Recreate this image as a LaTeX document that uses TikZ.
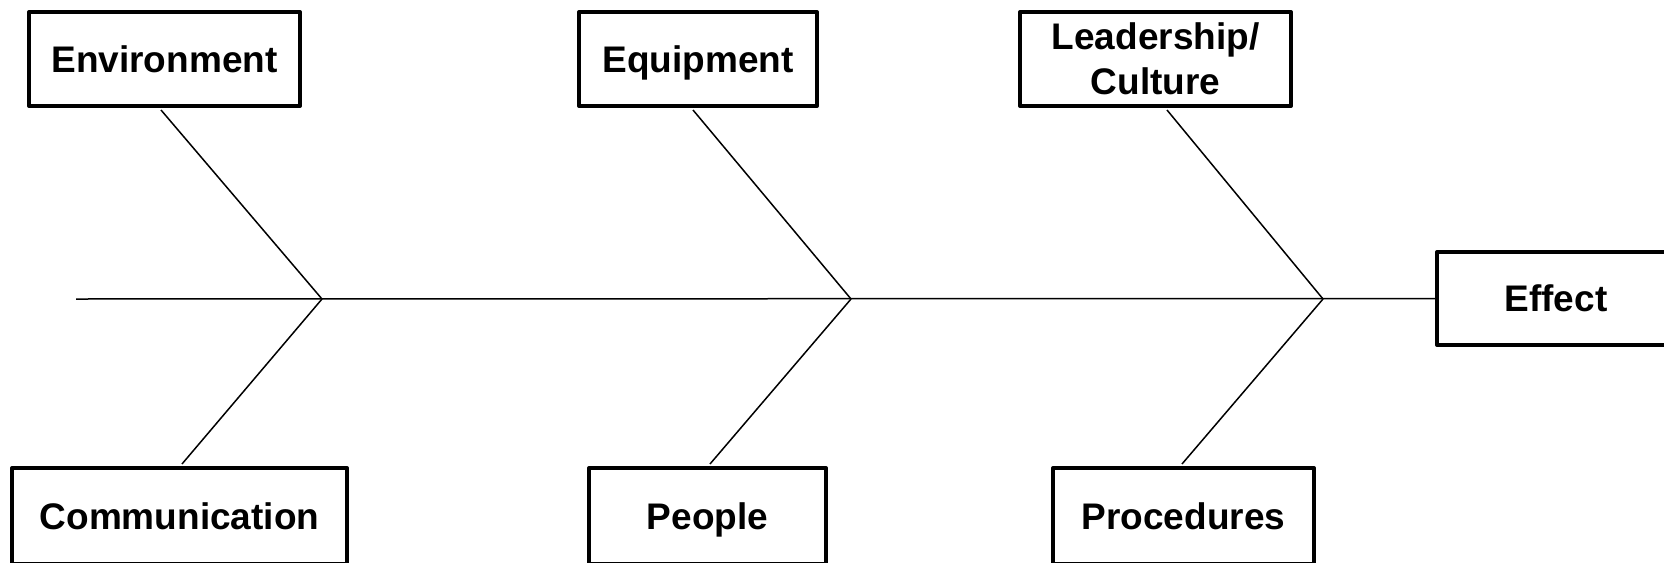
\documentclass[tikz,border=0pt]{standalone}
\usepackage{fontspec}
\setmainfont{Liberation Sans}
\begin{document}
\begin{tikzpicture}[x=0.5pt,y=-0.5pt,
  catbox/.style={draw=black,line width=2pt,line join=round,fill=white,inner sep=0pt,
    align=center,font=\bfseries\fontsize{18.5}{22.5}\selectfont,
    text height=13.2pt,text depth=0pt},
  bone/.style={draw=black,line width=0.75pt}]
\clip (0,0) rectangle (1664,562);
\useasboundingbox (0,0) rectangle (1664,562);
% junctions
\coordinate (start) at (76,299);
\coordinate (j1) at (322,299);
\coordinate (j2) at (851,299);
\coordinate (j3) at (1323,299);
% boxes
\node[catbox,minimum width=135.5pt,minimum height=47pt] (env) at (164.5,59) {Environment};
\node[catbox,minimum width=119pt,minimum height=47pt] (equip) at (698,59) {Equipment};
\node[catbox,minimum width=135.5pt,minimum height=47pt,text height=35.7pt] (lead) at (1155.5,59) {Leadership/\\Culture};
\node[catbox,minimum width=119pt,minimum height=46.5pt] (effect) at (1556,298.5) {Effect};
\node[catbox,minimum width=167.5pt,minimum height=48pt] (comm) at (179.5,516) {Communication};
\node[catbox,minimum width=118.5pt,minimum height=48pt] (people) at (707.5,516) {People};
\node[catbox,minimum width=130.5pt,minimum height=48pt] (proc) at (1183.5,516) {Procedures};
% spine
\draw[bone] (start) -- (effect.west);
% ribs
\draw[bone] ([xshift=-1.75pt,yshift=-1pt]env.south) -- (j1);
\draw[bone] ([xshift=-2.5pt,yshift=-1pt]equip.south) -- (j2);
\draw[bone] ([xshift=5.75pt,yshift=-1pt]lead.south) -- (j3);
\draw[bone] ([xshift=1.25pt,yshift=1pt]comm.north) -- (j1);
\draw[bone] ([xshift=1.25pt,yshift=1pt]people.north) -- (j2);
\draw[bone] ([xshift=-0.75pt,yshift=1pt]proc.north) -- (j3);
\end{tikzpicture}
\end{document}
